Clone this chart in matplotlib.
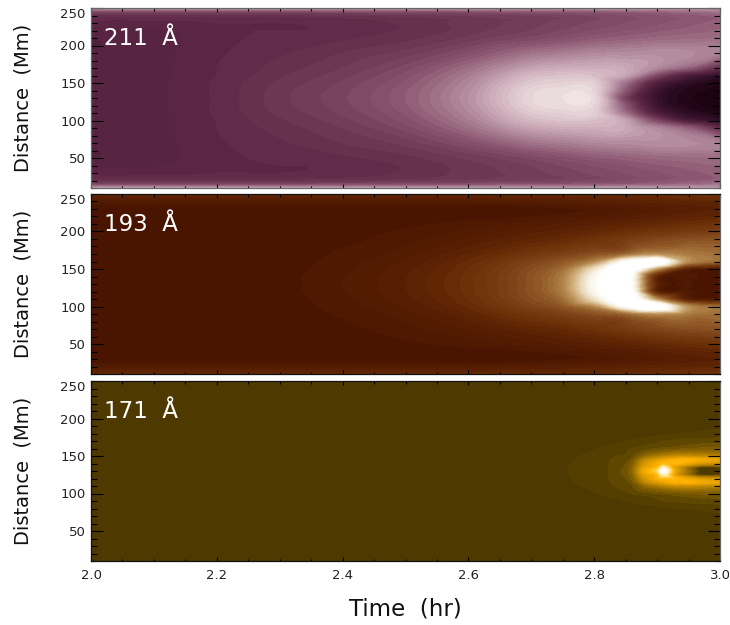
import numpy as np
import matplotlib
matplotlib.use("Agg")
import matplotlib.pyplot as plt
import matplotlib.tri as mtri
from matplotlib.colors import LinearSegmentedColormap
from matplotlib.ticker import MultipleLocator

W, H = 730, 625
X_LEFT, X_RIGHT = 91, 720
PANEL_Y = [(8, 188), (194, 374), (381, 561)]

# tables hold the position on each colour table, rows are distance (Mm) up to
# the loop top at 130, the upper half of each panel is the mirror image
TIME = [2.0, 2.1, 2.2, 2.3, 2.4, 2.5, 2.6, 2.7, 2.75, 2.8, 2.85, 2.9, 2.95, 3.0]
DIST = [10, 15, 20, 30, 50, 70, 90, 100, 110, 120, 130]

I_211 = [
    [.68, .68, .68, .68, .68, .68, .68, .68, .68, .68, .68, .68, .68, .68],
    [.43, .43, .43, .43, .44, .45, .46, .47, .48, .49, .50, .52, .54, .56],
    [.34, .34, .34, .34, .35, .36, .38, .40, .41, .43, .45, .47, .49, .51],
    [.29, .29, .30, .30, .31, .33, .36, .39, .41, .43, .45, .47, .49, .51],
    [.25, .265, .29, .31, .32, .34, .38, .43, .46, .49, .51, .53, .54, .55],
    [.25, .265, .295, .32, .35, .385, .455, .56, .59, .62, .63, .64, .63, .60],
    [.25, .265, .30, .335, .375, .435, .55, .70, .73, .74, .72, .62, .50, .30],
    [.25, .265, .30, .345, .39, .46, .59, .77, .80, .79, .70, .42, .20, .08],
    [.25, .268, .305, .355, .405, .48, .62, .82, .85, .84, .55, .22, .08, .03],
    [.25, .268, .305, .363, .415, .495, .64, .86, .89, .86, .48, .14, .04, .02],
    [.25, .268, .305, .365, .42, .50, .65, .87, .90, .88, .40, .12, .03, .02],
]

I_193 = [
    [.15, .15, .15, .15, .15, .15, .15, .15, .15, .15, .16, .17, .18, .20],
    [.10, .10, .10, .10, .10, .10, .10, .11, .11, .12, .13, .14, .16, .17],
    [.05, .05, .05, .05, .05, .05, .06, .07, .08, .09, .10, .11, .12, .13],
    [.00, .00, .00, .00, .00, .00, .00, .01, .02, .03, .05, .07, .09, .10],
    [.00, .00, .00, .003, .008, .018, .035, .06, .075, .095, .12, .145, .17, .19],
    [.00, .00, .00, .006, .016, .04, .075, .125, .15, .19, .24, .29, .32, .33],
    [.00, .00, .002, .009, .03, .062, .125, .22, .27, .33, .40, .50, .45, .42],
    [.00, .00, .003, .011, .037, .078, .155, .28, .35, .48, .85, .98, .50, .40],
    [.00, .00, .004, .013, .043, .09, .175, .32, .42, .72, 1.0, .50, .08, .03],
    [.00, .00, .005, .015, .048, .098, .187, .34, .47, .82, 1.0, .12, .04, .00],
    [.00, .00, .005, .015, .05, .10, .19, .34, .48, .85, 1.0, .12, .03, .00],
]

TIME_171 = [2.0, 2.7, 2.76, 2.8, 2.83, 2.86, 2.88, 2.9, 2.91, 2.93, 2.95, 2.97, 3.0]
DIST_171 = [10, 50, 70, 80, 90, 100, 110, 115, 120, 125, 130]

I_171 = [
    [0, 0, 0, 0, 0, 0, 0, 0, 0, 0, 0, 0, 0],
    [0, 0, 0, 0, 0, 0, 0, 0, 0, 0, 0, 0, 0],
    [0, 0, 0, 0, 0, 0, 0, .002, .003, .004, .005, .007, .008],
    [0, 0, 0, 0, .002, .004, .006, .008, .01, .012, .014, .016, .02],
    [0, 0, 0, .003, .008, .014, .02, .025, .03, .035, .04, .043, .045],
    [0, 0, .004, .01, .02, .03, .045, .06, .07, .085, .10, .11, .11],
    [0, .002, .008, .018, .028, .055, .16, .24, .28, .34, .34, .32, .30],
    [0, .003, .01, .022, .033, .08, .30, .44, .50, .58, .60, .55, .50],
    [0, .003, .011, .024, .036, .11, .40, .58, .62, .60, .50, .40, .35],
    [0, .004, .012, .025, .04, .14, .47, .62, .85, .45, .20, .02, .02],
    [0, .004, .012, .025, .04, .15, .55, .75, 1.0, .50, .20, 0, 0],
]

CMAP_211 = ["#1a000e", "#320f28", "#4a1c38", "#5e2846", "#75405c", "#8f5a75",
            "#a97f95", "#c4a1b0", "#d9c0c8", "#ecdfe0", "#ffffff"]
CMAP_193 = ["#481400", "#5a2003", "#6e3309", "#80451a", "#9a6530", "#b58a50",
            "#d0b080", "#e8d8b8", "#f8f3e8", "#ffffff", "#ffffff"]
CMAP_171 = ["#4c3800", "#7a5a00", "#9a6f00", "#b88300", "#d09300", "#e8a200",
            "#ffb000", "#ffc830", "#ffe08a", "#fff2cc", "#ffffff"]

PANELS = [("211  Å", TIME, DIST, I_211, CMAP_211),
          ("193  Å", TIME, DIST, I_193, CMAP_193),
          ("171  Å", TIME_171, DIST_171, I_171, CMAP_171)]

TSCALE = 300.0  # hours -> roughly Mm, keeps triangles sane
DTOP = 130


def refined(times, dists, table):
    z = np.array(table, dtype=float)
    d = np.array(dists, dtype=float)
    # mirror about the loop top
    d_all = np.concatenate([d, 2 * DTOP - d[-2::-1]])
    z_all = np.vstack([z, z[-2::-1]])
    tt, dd = np.meshgrid(np.array(times) * TSCALE, d_all)
    tri = mtri.Triangulation(tt.ravel(), dd.ravel())
    interp = mtri.CubicTriInterpolator(tri, z_all.ravel(), kind="geom")
    fine, zf = mtri.UniformTriRefiner(tri).refine_field(z_all.ravel(), interp, subdiv=4)
    return mtri.Triangulation(fine.x / TSCALE, fine.y, fine.triangles), zf


fig = plt.figure(figsize=(W / 100, H / 100), dpi=100)

for i, (label, times, dists, table, colors) in enumerate(PANELS):
    y0, y1 = PANEL_Y[i]
    ax = fig.add_axes([X_LEFT / W, 1 - y1 / H, (X_RIGHT - X_LEFT) / W, (y1 - y0) / H])
    cmap = LinearSegmentedColormap.from_list("aia", colors, N=256)
    tri, zf = refined(times, dists, table)
    levels = np.linspace(0, 1, 41)
    if i == 2:
        levels = np.concatenate([[0, .012, .03, .06, .1], np.linspace(.14, 1, 36)])
    ax.tricontourf(tri, np.clip(zf, 0, 1), levels=levels, cmap=cmap, vmin=0, vmax=1)

    ax.set_xlim(2.0, 3.0)
    ax.set_ylim(10, 250)
    ax.xaxis.set_major_locator(MultipleLocator(0.2))
    ax.xaxis.set_minor_locator(MultipleLocator(0.05))
    ax.set_yticks([50, 100, 150, 200, 250])
    ax.yaxis.set_minor_locator(MultipleLocator(10))
    ax.tick_params(axis="y", which="major", direction="in", length=8.6, width=0.8,
                   left=True, right=True, labelsize=9.5, pad=4, labelcolor="#222222")
    ax.tick_params(axis="y", which="minor", direction="in", length=4.3, width=0.8,
                   left=True, right=True)
    ax.tick_params(axis="x", which="major", direction="in", length=3, width=0.8,
                   top=True, bottom=True, labelsize=9.5, pad=6, labelcolor="#222222",
                   labelbottom=(i == 2))
    ax.tick_params(axis="x", which="minor", direction="in", length=1.8, width=0.8,
                   top=True, bottom=True)
    ax.get_yticklabels()[-1].set_va("top")
    for side, spine in ax.spines.items():
        spine.set_linewidth(0.9)
        spine.set_color("#666666" if side == "right" or i == 0 else "#111111")

    ax.text(2.021, 209.5, label, color="white", fontsize=16.5, va="center", ha="left")
    fig.text(23 / W, 1 - (y0 + y1) / 2 / H, "Distance  (Mm)", rotation=90,
             fontsize=14, ha="center", va="center", color="#111111")

fig.text(405 / W, 1 - 609 / H, "Time  (hr)", fontsize=16.5, ha="center", va="center",
         color="#111111")

fig.savefig("out.png", dpi=100)
